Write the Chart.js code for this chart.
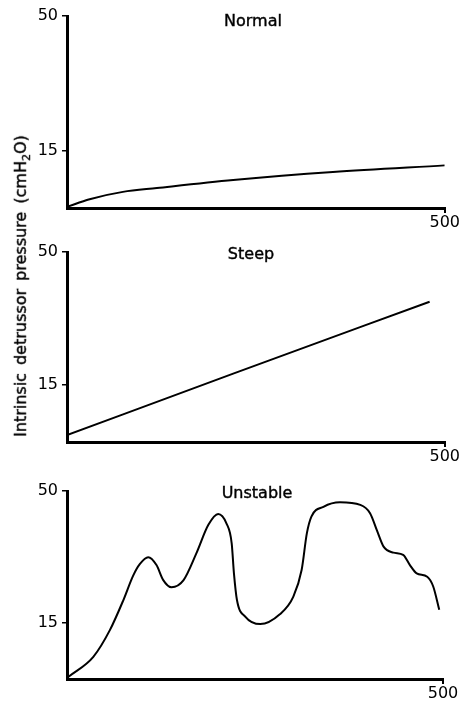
<!DOCTYPE html>
<html>
<head>
<meta charset="utf-8">
<script src="https://cdn.jsdelivr.net/npm/chart.js@4/dist/chart.umd.min.js"></script>
<style>
  body { margin: 0; background: #fff; }
  #wrap { position: relative; width: 460px; height: 708px; font-family: "DejaVu Sans", sans-serif; color: #000; }
  .panel { position: absolute; left: 0; width: 460px; height: 232px; }
  .titulo { position: absolute; font-size: 16px; transform: translate(-50%, -50%); white-space: nowrap;
            -webkit-text-stroke: 0.4px #000; }
  #ylabel { position: absolute; left: 22px; top: 286px; font-size: 16px; white-space: nowrap;
            transform: translate(-50%, -50%) rotate(-90deg); word-spacing: 3px; -webkit-text-stroke: 0.4px #000; }
  #ylabel sub { font-size: 11px; }
</style>
</head>
<body>
<div id="wrap">
  <div class="panel" style="top:0px"><canvas id="normalChart"></canvas></div>
  <div class="panel" style="top:236px"><canvas id="steepChart"></canvas></div>
  <div class="panel" style="top:475px"><canvas id="unstableChart"></canvas></div>
  <div class="titulo" style="left:253px; top:20px">Normal</div>
  <div class="titulo" style="left:251px; top:253px">Steep</div>
  <div class="titulo" style="left:257px; top:492px">Unstable</div>
  <div id="ylabel">Intrinsic detrussor pressure (cmH<sub>2</sub>O)</div>
</div>
<script>
// valores (volumen, presion)
const normalX = [0, 30, 74, 119, 220, 352, 500];
const normalY = [0.3, 2.3, 4.2, 5.2, 7.3, 9.4, 11.1];

const steepX = [0, 220, 480];
const steepY = [1.8, 18.0, 36.9];

const unstableX = [2, 35, 57, 75, 88, 97, 108, 119, 128, 139, 155, 172, 188, 201, 212, 219, 222, 226, 237, 257,
  283, 301, 312, 319, 325, 341, 363, 390, 403, 412, 421, 434, 447, 456, 465, 479, 487, 495];
const unstableY = [0.6, 5.9, 13.0, 21.0, 27.5, 30.6, 32.4, 30.3, 26.3, 24.4, 26.3, 33.4, 41.0, 43.9, 41.4, 36.1, 28.1, 21.0, 16.6, 14.6,
  17.2, 21.9, 29.0, 38.8, 43.2, 45.8, 47.0, 46.3, 44.1, 39.6, 35.2, 33.6, 33.0, 30.3, 28.1, 27.2, 24.6, 18.4];

const xTicks = [500];
const yTicks = [15, 50];

function crearPanel(id, xs, ys, alturaX, padDerecha) {
  const ctx = document.getElementById(id).getContext("2d");
  return new Chart(ctx, {
    type: "line",
    data: {
      datasets: [{
        data: xs.map((x, i) => ({ x: x, y: ys[i] })),
        borderColor: "#000",
        borderWidth: 2,
        pointRadius: 0,
        fill: false,
        cubicInterpolationMode: "monotone"
      }]
    },
    options: {
      responsive: true,
      maintainAspectRatio: false,
      animation: false,
      layout: { padding: { top: 16, right: padDerecha, bottom: 0, left: 0 } },
      plugins: { legend: { display: false }, tooltip: { enabled: false } },
      scales: {
        x: {
          type: "linear",
          min: 0,
          max: 500,
          afterBuildTicks: axis => { axis.ticks = xTicks.map(v => ({ value: v })); },
          afterFit: axis => { axis.height = alturaX; },
          grid: { drawOnChartArea: false, drawTicks: true, tickLength: 5, color: "#000", lineWidth: 2 },
          border: { display: true, color: "#000", width: 3 },
          ticks: { color: "#000", font: { family: "DejaVu Sans", size: 16 }, padding: 0, maxRotation: 0 }
        },
        y: {
          type: "linear",
          min: 0,
          max: 50,
          afterBuildTicks: axis => { axis.ticks = yTicks.map(v => ({ value: v })); },
          afterFit: axis => { axis.width = 67; },
          grid: { drawOnChartArea: false, drawTicks: true, tickLength: 5, color: "#000", lineWidth: 1.5 },
          border: { display: true, color: "#000", width: 3 },
          ticks: { color: "#000", font: { family: "DejaVu Sans", size: 16 }, padding: 4 }
        }
      }
    }
  });
}

crearPanel("normalChart", normalX, normalY, 24, 15);
crearPanel("steepChart", steepX, steepY, 26, 15);
crearPanel("unstableChart", unstableX, unstableY, 28, 17);
</script>
</body>
</html>
